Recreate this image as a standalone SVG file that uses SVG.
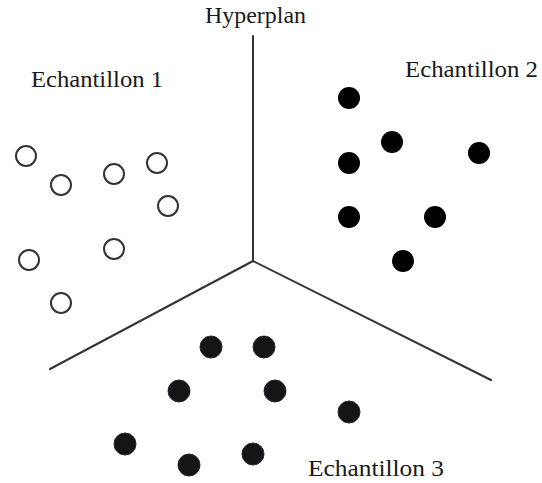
<svg xmlns="http://www.w3.org/2000/svg" width="542" height="483" viewBox="0 0 542 483">
<style>
  text { font-family: "Liberation Serif", "Times New Roman", serif; font-size: 23px; fill: #1a1a1a; }
  .open { fill: #fff; stroke: #333; stroke-width: 2; }
  .dot2 { fill: #000; }
  .dot3 { fill: #151518; stroke: #2a2a2e; stroke-width: 1; }
  .line { stroke: #333; stroke-width: 2; fill: none; stroke-linecap: round; }
</style>
<rect width="542" height="483" fill="#fff"/>
<g id="connectors">
  <line class="line" x1="253" y1="36" x2="253" y2="261"/>
  <line class="line" x1="253" y1="261" x2="50" y2="369"/>
  <line class="line" x1="253" y1="261" x2="491" y2="380"/>
</g>
<g id="label-hyperplan"><text x="205" y="23" textLength="101" lengthAdjust="spacingAndGlyphs">Hyperplan</text></g>
<g id="echantillon1">
  <text x="31" y="87" textLength="132" lengthAdjust="spacingAndGlyphs">Echantillon 1</text>
  <circle class="open" cx="26" cy="156" r="10"/>
  <circle class="open" cx="61" cy="185" r="10"/>
  <circle class="open" cx="114" cy="174" r="10"/>
  <circle class="open" cx="157" cy="163" r="10"/>
  <circle class="open" cx="168" cy="206" r="10"/>
  <circle class="open" cx="114" cy="249" r="10"/>
  <circle class="open" cx="29" cy="260" r="10"/>
  <circle class="open" cx="61" cy="303" r="10"/>
</g>
<g id="echantillon2">
  <text x="405" y="77" textLength="133" lengthAdjust="spacingAndGlyphs">Echantillon 2</text>
  <circle class="dot2" cx="349" cy="98" r="11"/>
  <circle class="dot2" cx="392" cy="142" r="11"/>
  <circle class="dot2" cx="349" cy="163" r="11"/>
  <circle class="dot2" cx="479" cy="153" r="11"/>
  <circle class="dot2" cx="349" cy="217" r="11"/>
  <circle class="dot2" cx="435" cy="217" r="11"/>
  <circle class="dot2" cx="403" cy="261" r="11"/>
</g>
<g id="echantillon3">
  <text x="308" y="476" textLength="136" lengthAdjust="spacingAndGlyphs">Echantillon 3</text>
  <circle class="dot3" cx="211" cy="347" r="11"/>
  <circle class="dot3" cx="264" cy="347" r="11"/>
  <circle class="dot3" cx="179" cy="391" r="11"/>
  <circle class="dot3" cx="275" cy="391" r="11"/>
  <circle class="dot3" cx="349" cy="412" r="11"/>
  <circle class="dot3" cx="125" cy="444" r="11"/>
  <circle class="dot3" cx="189" cy="465" r="11"/>
  <circle class="dot3" cx="253" cy="454" r="11"/>
</g>
</svg>
